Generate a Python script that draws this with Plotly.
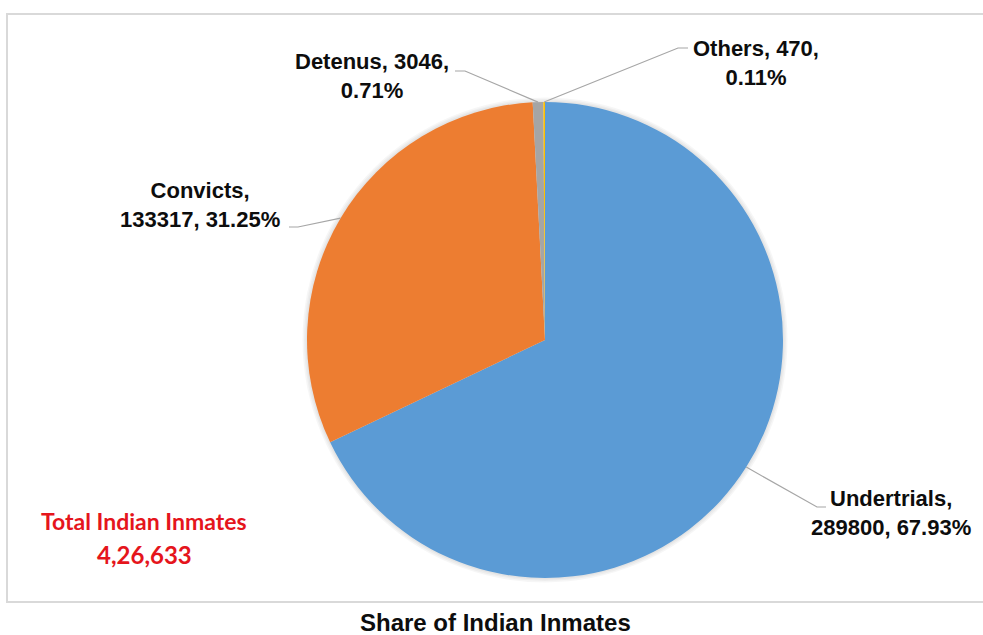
import math
import plotly.graph_objects as go

# ---- data -------------------------------------------------------------
labels = ["Undertrials", "Convicts", "Detenus", "Others"]
values = [289800, 133317, 3046, 470]
colors = ["#5B9BD5", "#ED7D31", "#A5A5A5", "#FFC000"]
# whether the value sits on the first line ("Name, value,<br>pct%")
value_on_first_line = [False, False, True, True]

title_text = "Share of Indian Inmates"
total_caption = "Total Indian Inmates"
total_value_text = "4,26,633"

# ---- geometry (pixels) ------------------------------------------------
W, H = 983, 635
cx, cy, R = 545, 340, 238

# label centres and leader-line elbows / ends (pixels)
label_pos = [(891, 513), (200, 205), (372, 76), (756, 63)]
elbow_pos = [(817, 507), (298, 227), (465, 71), (678, 48)]
end_pos = [(826, 507), (289, 227), (455, 71), (688, 48)]


def px(x):
    return x / W


def py(y):
    return 1 - y / H


total = sum(values)
pcts = [v / total * 100 for v in values]

fig = go.Figure()

fig.add_trace(go.Pie(
    labels=labels,
    values=values,
    sort=False,
    direction="clockwise",
    rotation=0,
    marker=dict(colors=colors, line=dict(width=0)),
    textinfo="none",
    hovertemplate="%{label}: %{value} (%{percent})<extra></extra>",
    domain=dict(x=[px(cx - R), px(cx + R)], y=[py(cy + R), py(cy - R)]),
    showlegend=False,
))

shapes = []
# outer frame of the chart area (open on the right)
shapes.append(dict(type="rect", xref="paper", yref="paper",
                   x0=px(7), x1=px(1020), y0=py(602), y1=py(14),
                   line=dict(color="#D9D9D9", width=2), layer="below"))
# soft shadow around the pie
for dr in (4.5, 3, 1.5):
    shapes.append(dict(type="circle", xref="paper", yref="paper",
                       x0=px(cx - R - dr), x1=px(cx + R + dr),
                       y0=py(cy + R + dr), y1=py(cy - R - dr),
                       fillcolor="rgba(0,0,0,0.035)", line=dict(width=0),
                       layer="below"))

annotations = []
cum = 0.0
for i, (lab, val, pct) in enumerate(zip(labels, values, pcts)):
    mid = (cum + val / 2) / total
    cum += val
    theta = 2 * math.pi * mid
    ax = cx + R * math.sin(theta)
    ay = cy - R * math.cos(theta)
    (ex, ey), (fx, fy) = elbow_pos[i], end_pos[i]
    path = (f"M {px(ax)},{py(ay)} L {px(ex)},{py(ey)} L {px(fx)},{py(fy)}")
    shapes.append(dict(type="path", xref="paper", yref="paper", path=path,
                       line=dict(color="#A6A6A6", width=1.2)))
    if value_on_first_line[i]:
        txt = f"{lab}, {val},<br>{pct:.2f}%"
    else:
        txt = f"{lab},<br>{val}, {pct:.2f}%"
    lx, ly = label_pos[i]
    annotations.append(dict(
        x=px(lx), y=py(ly), xref="paper", yref="paper", text=f"<b>{txt}</b>",
        showarrow=False, xanchor="center", yanchor="middle", align="center",
        font=dict(family="Liberation Sans, Arial, sans-serif", size=22,
                  color="#0D0D0D"),
    ))

# total inmates caption
annotations.append(dict(
    x=px(144), y=py(521), xref="paper", yref="paper",
    text=f"<b>{total_caption}</b>", showarrow=False,
    xanchor="center", yanchor="middle",
    font=dict(family="Lato, sans-serif", size=23, color="#E5151C"),
))
annotations.append(dict(
    x=px(144), y=py(554), xref="paper", yref="paper",
    text=f"<b>{total_value_text}</b>", showarrow=False,
    xanchor="center", yanchor="middle",
    font=dict(family="Lato, sans-serif", size=24, color="#E5151C"),
))

# chart title below the frame
annotations.append(dict(
    x=px(495), y=py(622), xref="paper", yref="paper",
    text=f"<b>{title_text}</b>", showarrow=False,
    xanchor="center", yanchor="middle",
    font=dict(family="Liberation Sans, Arial, sans-serif", size=24,
              color="#0D0D0D"),
))

fig.update_layout(
    width=W, height=H,
    margin=dict(l=0, r=0, t=0, b=0),
    paper_bgcolor="white",
    plot_bgcolor="white",
    shapes=shapes,
    annotations=annotations,
)

fig.write_html("out.html")
